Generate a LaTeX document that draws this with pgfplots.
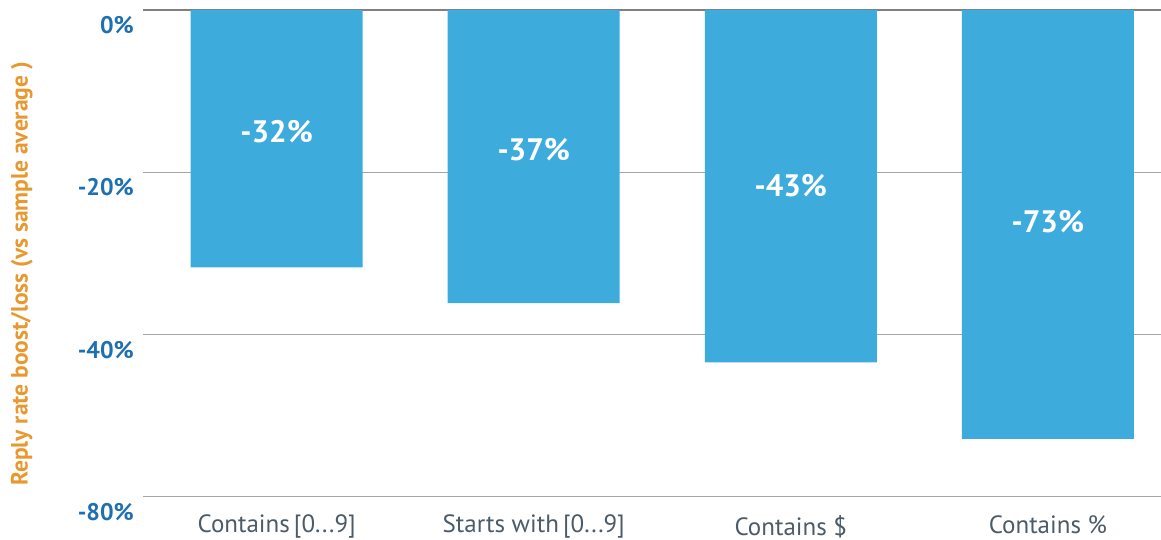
\documentclass[border=0pt]{standalone}
\usepackage{pgfplots}
\pgfplotsset{compat=1.18}
\usepackage{pgfplotstable}
\usepackage{fontspec}
\setmainfont{PT Sans}
\definecolor{barblue}{HTML}{3DACDD}
\definecolor{tickblue}{HTML}{1F70B1}
\definecolor{labelorange}{HTML}{E8982F}
\definecolor{catgray}{HTML}{4B5B68}
\newcommand{\ddd}{.{}.{}.}
\pgfplotstableread{
x y mid label
0 -31.7 -15.0 -32
1 -36.1 -17.25 -37
2 -43.4 -21.6 -43
3 -52.85 -26.1 -73
}\data
\begin{document}
\begin{tikzpicture}
\begin{axis}[
  at={(0,0)}, anchor=south west,
  scale only axis, width=1018pt, height=487pt,
  xmin=-0.52, xmax=3.44, ymin=-60, ymax=0,
  axis line style={draw=none}, tick style={draw=none},
  xtick={0,1,2,3},
  xticklabels={{Contains\,[0\ddd9]}, {Starts with\,[0\ddd9]}, {Contains \$}, {Contains \%}},
  xticklabel style={font=\fontsize{25}{29}\selectfont, text=catgray, inner sep=0pt, anchor=north, yshift=-18pt},
  ytick={-60,-40,-20}, yticklabels={-80\%,-40\%,-20\%},
  extra y ticks={0}, extra y tick labels={0\%},
  extra y tick style={grid style={color=gray, line width=2.5pt}},
  yticklabel style={font=\fontsize{24}{28}\selectfont\bfseries, text=tickblue, inner sep=0pt, anchor=north east, xshift=-9pt, yshift=-6pt},
  ymajorgrids, grid style={color=gray!70, line width=1pt},
  ylabel={Reply rate boost/loss (vs sample average )},
  ylabel style={font=\fontsize{23.5}{27}\selectfont\bfseries, text=labelorange, at={(axis description cs:-0.119,0.458)}, rotate=0, anchor=center},
  clip=false,
]
\addplot[ybar, bar width=172pt, fill=barblue, draw=none] table[x=x, y=y] {\data};
\addplot[draw=none, mark=none, nodes near coords, point meta=explicit symbolic,
  nodes near coords={\pgfplotspointmeta\%},
  every node near coord/.append style={anchor=center, font=\fontsize{31}{35}\selectfont\bfseries, text=white}]
  table[x=x, y=mid, meta=label] {\data};
\end{axis}
\pgfresetboundingbox
\path[use as bounding box] (-143pt,-43pt) rectangle (1018pt,497pt);
\end{tikzpicture}
\end{document}
